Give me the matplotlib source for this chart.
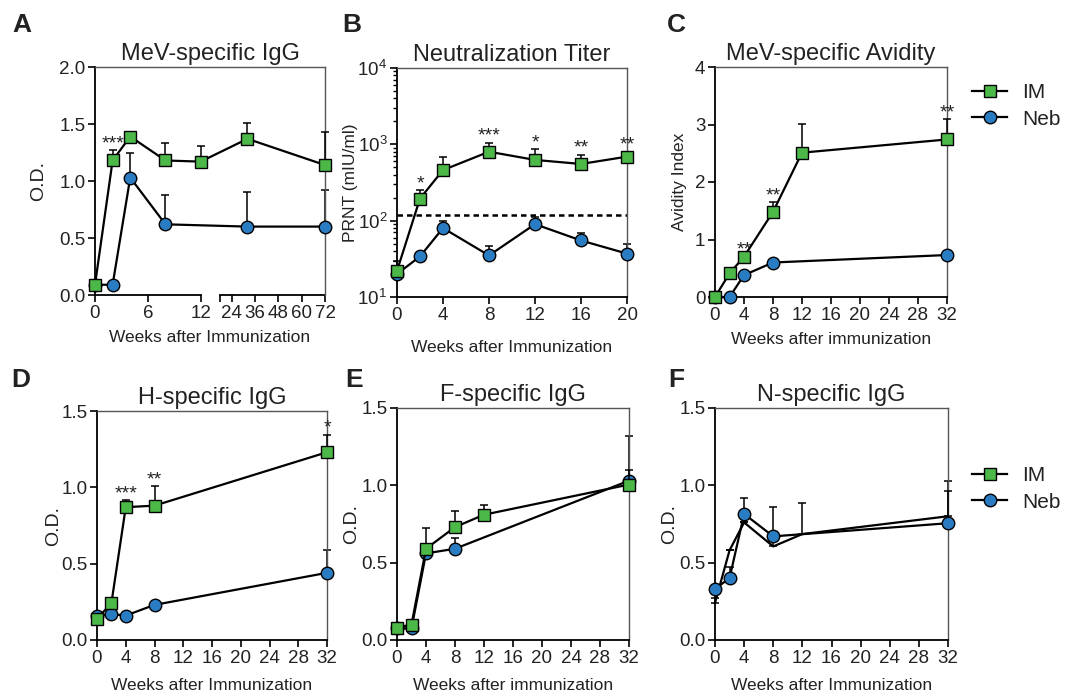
import numpy as np
import matplotlib
matplotlib.use("Agg")
import matplotlib.pyplot as plt
from matplotlib.lines import Line2D
from matplotlib.ticker import LogLocator, NullFormatter

plt.rcParams['font.family'] = ['Liberation Sans', 'DejaVu Sans']
plt.rcParams['mathtext.fontset'] = 'custom'
plt.rcParams['mathtext.rm'] = 'Liberation Sans'
plt.rcParams['mathtext.default'] = 'regular'

GREEN = '#4cb848'
BLUE = '#2a7cc2'
TXT = '#222222'

# ---- data (value, top of error bar) ----
# A: MeV-specific IgG
a_im_wk = [0, 2, 4, 8, 12, 32, 72]
a_im = [0.09, 1.18, 1.39, 1.18, 1.17, 1.37, 1.14]
a_im_err = [0.09, 1.27, 1.39, 1.33, 1.31, 1.51, 1.43]
a_neb_wk = [0, 2, 4, 8, 32, 72]
a_neb = [0.09, 0.09, 1.03, 0.62, 0.60, 0.60]
a_neb_err = [0.09, 0.09, 1.25, 0.88, 0.90, 0.92]
a_stars = [(2, '***')]

# B: Neutralization titer
b_wk = [0, 2, 4, 8, 12, 16, 20]
b_im = [22, 195, 460, 800, 625, 553, 690]
b_im_err = [30, 250, 690, 1050, 860, 725, 800]
b_neb = [20, 34, 80, 35, 90, 55, 37]
b_neb_err = [20, 37, 98, 47, 112, 68, 49]
b_cutoff = 120
b_stars = [(2, '*'), (8, '***'), (12, '*'), (16, '**'), (20, '**')]

# C: avidity
c_im_wk = [0, 2, 4, 8, 12, 32]
c_im = [0.0, 0.41, 0.70, 1.48, 2.51, 2.74]
c_im_err = [0.0, 0.41, 0.70, 1.65, 3.01, 3.09]
c_neb_wk = [0, 2, 4, 8, 32]
c_neb = [0.0, 0.0, 0.38, 0.60, 0.73]
c_neb_err = [0.0, 0.0, 0.38, 0.60, 0.73]
c_stars = [(4, '**'), (8, '**'), (32, '**')]

# D: H-specific IgG
d_wk = [0, 2, 4, 8, 32]
d_im = [0.14, 0.24, 0.87, 0.88, 1.23]
d_im_err = [0.14, 0.24, 0.915, 1.006, 1.344]
d_neb = [0.16, 0.17, 0.16, 0.23, 0.44]
d_neb_err = [0.16, 0.17, 0.16, 0.23, 0.588]
d_stars = [(4, '***'), (8, '**'), (32, '*')]

# E: F-specific IgG
e_im_wk = [0, 2, 4, 8, 12, 32]
e_im = [0.08, 0.10, 0.59, 0.73, 0.81, 1.005]
e_im_err = [0.08, 0.10, 0.725, 0.835, 0.876, 1.10]
e_neb_wk = [0, 2, 4, 8, 32]
e_neb = [0.075, 0.075, 0.56, 0.59, 1.03]
e_neb_err = [0.075, 0.075, 0.56, 0.66, 1.317]

# F: N-specific IgG
f_im_wk = [0, 2, 4, 8, 12, 32]
f_im = [0.24, 0.58, 0.76, 0.605, 0.685, 0.80]
f_im_err = [0.27, 0.58, 0.76, 0.862, 0.884, 1.027]
f_neb_wk = [0, 2, 4, 8, 32]
f_neb = [0.33, 0.40, 0.815, 0.67, 0.755]
f_neb_err = [0.33, 0.47, 0.918, 0.70, 0.962]

fig = plt.figure(figsize=(10.68, 6.96), dpi=100)
W, H = 1068, 696
MS_SQ = 8.5
MS_CI = 9


def box(l, t, r, b):
    return fig.add_axes([l / W, 1 - b / H, (r - l) / W, (b - t) / H])


def style(ax):
    for s in ['left', 'bottom']:
        ax.spines[s].set_linewidth(1.3)
        ax.spines[s].set_color('black')
    for s in ['top', 'right']:
        ax.spines[s].set_linewidth(1.0)
        ax.spines[s].set_color('#555555')
    ax.tick_params(direction='out', length=5, width=1.2, labelsize=13.5,
                   labelcolor=TXT, pad=2)
    ax.tick_params(which='minor', direction='out', length=3, width=1)


def series(ax, x, y, err, color, marker, ms, z=3, show=True):
    y = np.array(y, dtype=float)
    err = np.array(err, dtype=float)
    ax.errorbar(x, y, yerr=[np.zeros_like(y), err - y], fmt='none',
                ecolor='black', elinewidth=1.1, capsize=3, capthick=1.1,
                zorder=z - 1, clip_on=False)
    ax.plot(x, y, color='black', lw=1.6, marker=marker if show else 'none',
            ms=ms, mfc=color, mec='black', mew=1.0, zorder=z, clip_on=False)


def stars(ax, marks, xs, tops):
    lookup = dict(zip(xs, tops))
    for wk, s in marks:
        ax.annotate(s, (wk, lookup[wk]), xytext=(0, 1.5),
                    textcoords='offset points', ha='center', va='baseline',
                    fontsize=14, color=TXT, annotation_clip=False)


def labels(ax, title, ylab, xlab, ylx, lpad=8, ysize=12.5):
    ax.set_title(title, fontsize=17, color=TXT, pad=5)
    ax.set_ylabel(ylab, fontsize=ysize, color=TXT)
    ax.set_xlabel(xlab, fontsize=12.5, color=TXT, labelpad=lpad)
    ax.yaxis.set_label_coords(ylx, 0.5)


# ---------- A ----------
axA = box(95, 67, 325, 295)
style(axA)
brk_w = [0, 12, 18, 72]
brk_p = [0, 105.7, 125.3, 230]
axA.set_xscale('function', functions=(lambda w: np.interp(w, brk_w, brk_p),
                                      lambda p: np.interp(p, brk_p, brk_w)))
axA.set_xlim(0, 72)
axA.set_ylim(0, 2.0)
axA.set_xticks([0, 6, 12, 18, 24, 36, 48, 60, 72])
axA.set_xticklabels(['0', '6', '12', '', '24', '36', '48', '60', '72'])
axA.set_yticks([0, 0.5, 1.0, 1.5, 2.0])
axA.set_yticklabels(['0.0', '0.5', '1.0', '1.5', '2.0'])
axA.spines['bottom'].set_visible(False)
trA = axA.get_xaxis_transform()
axA.plot([0, 12], [0, 0], color='black', lw=1.3, transform=trA, clip_on=False)
axA.plot([18, 72], [0, 0], color='black', lw=1.3, transform=trA, clip_on=False)
series(axA, a_neb_wk, a_neb, a_neb_err, BLUE, 'o', MS_CI)
series(axA, a_im_wk, a_im, a_im_err, GREEN, 's', MS_SQ, z=5)
stars(axA, a_stars, a_im_wk, a_im_err)
labels(axA, 'MeV-specific IgG', 'O.D.', 'Weeks after Immunization', -0.21, lpad=6, ysize=14)

# ---------- B ----------
axB = box(397, 68, 627, 297)
style(axB)
axB.set_yscale('log')
axB.set_ylim(10, 1e4)
axB.set_xlim(0, 20)
axB.set_xticks(range(0, 21, 4))
axB.yaxis.set_minor_locator(LogLocator(base=10, subs=np.arange(2, 10)))
axB.yaxis.set_minor_formatter(NullFormatter())
axB.axhline(b_cutoff, color='black', lw=1.8, ls=(0, (2.2, 1.6)), zorder=2)
series(axB, b_wk, b_neb, b_neb_err, BLUE, 'o', MS_CI)
series(axB, b_wk, b_im, b_im_err, GREEN, 's', MS_SQ, z=5)
stars(axB, b_stars, b_wk, b_im_err)
labels(axB, 'Neutralization Titer', 'PRNT (mIU/ml)', 'Weeks after Immunization', -0.17,
       lpad=12)

# ---------- C ----------
axC = box(715, 67, 947, 297)
style(axC)
axC.set_xlim(0, 32)
axC.set_ylim(0, 4)
axC.set_xticks(range(0, 33, 4))
axC.set_yticks([0, 1, 2, 3, 4])
series(axC, c_neb_wk, c_neb, c_neb_err, BLUE, 'o', MS_CI)
series(axC, c_im_wk, c_im, c_im_err, GREEN, 's', MS_SQ, z=5)
stars(axC, c_stars, c_im_wk, c_im_err)
labels(axC, 'MeV-specific Avidity', 'Avidity Index', 'Weeks after immunization', -0.12,
       lpad=6)

# ---------- D, E, F ----------
axD = box(97, 411, 327, 640)
axE = box(397, 408, 629, 640)
axF = box(715, 408, 948, 640)
for ax in (axD, axE, axF):
    style(ax)
    ax.set_xlim(0, 32)
    ax.set_ylim(0, 1.5)
    ax.set_xticks(range(0, 33, 4))
    ax.set_yticks([0, 0.5, 1.0, 1.5])
    ax.set_yticklabels(['0.0', '0.5', '1.0', '1.5'])

series(axD, d_wk, d_neb, d_neb_err, BLUE, 'o', MS_CI)
series(axD, d_wk, d_im, d_im_err, GREEN, 's', MS_SQ, z=5)
stars(axD, d_stars, d_wk, d_im_err)
labels(axD, 'H-specific IgG', 'O.D.', 'Weeks after Immunization', -0.15, ysize=14)

series(axE, e_neb_wk, e_neb, e_neb_err, BLUE, 'o', MS_CI)
series(axE, e_im_wk, e_im, e_im_err, GREEN, 's', MS_SQ, z=5)
labels(axE, 'F-specific IgG', 'O.D.', 'Weeks after immunization', -0.16, ysize=14)

series(axF, f_im_wk, f_im, f_im_err, GREEN, 's', MS_SQ, show=False)
series(axF, f_neb_wk, f_neb, f_neb_err, BLUE, 'o', MS_CI, z=5)
labels(axF, 'N-specific IgG', 'O.D.', 'Weeks after Immunization', -0.16, ysize=14)

# ---------- legends ----------
handles = [Line2D([], [], color='black', lw=1.6, marker='s', ms=MS_SQ, mfc=GREEN, mec='black'),
           Line2D([], [], color='black', lw=1.6, marker='o', ms=MS_CI, mfc=BLUE, mec='black')]
for yc in (106 / H, 489 / H):
    fig.legend(handles, ['IM', 'Neb'], loc='center left', bbox_to_anchor=(972 / W, 1 - yc),
               frameon=False, fontsize=15, handlelength=1.7, handletextpad=0.7,
               labelspacing=0.35, borderpad=0, borderaxespad=0, labelcolor=TXT)

# ---------- panel letters ----------
for ch, x, y in [('A', 22, 25), ('B', 352, 25), ('C', 676, 25),
                 ('D', 21, 380), ('E', 354, 380), ('F', 676, 380)]:
    fig.text(x / W, 1 - y / H, ch, fontsize=19, fontweight='bold',
             ha='center', va='center', color=TXT)

fig.savefig('out.png', dpi=100)
